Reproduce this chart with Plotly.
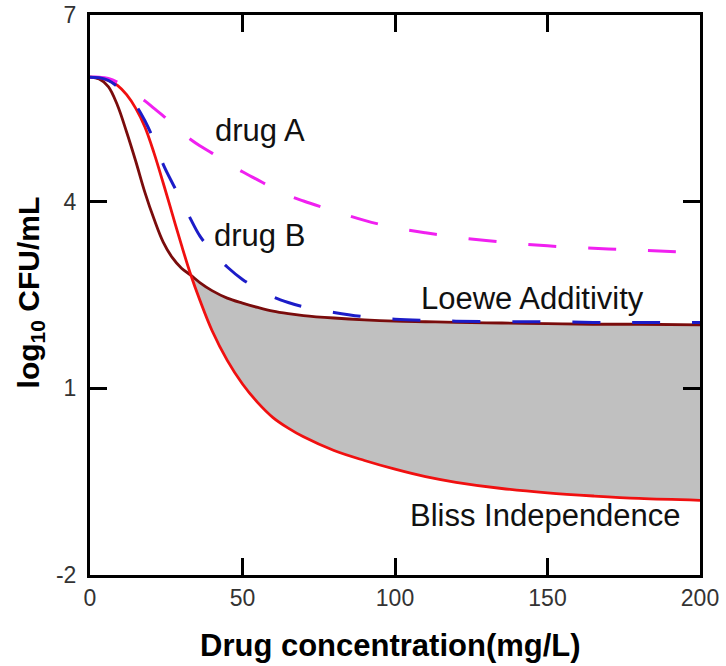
import plotly.graph_objects as go

# ---- data ----
conc = [0, 3, 6, 9, 12, 15, 18, 21, 24, 27, 30, 33, 36, 40, 45, 50, 55, 60, 65, 70,
        80, 90, 100, 110, 120, 135, 150, 165, 180, 200]

drug_a = [6.0, 6.0, 5.98, 5.92, 5.82, 5.72, 5.62, 5.5, 5.38, 5.25, 5.12, 5.0, 4.9, 4.78,
          4.62, 4.48, 4.35, 4.22, 4.1, 4.01, 3.85, 3.7, 3.58, 3.5, 3.43, 3.35, 3.29,
          3.25, 3.22, 3.18]

drug_b = [6.0, 5.99, 5.95, 5.85, 5.72, 5.55, 5.3, 4.98, 4.6, 4.3, 4.02, 3.72, 3.45, 3.2,
          2.95, 2.75, 2.6, 2.47, 2.38, 2.31, 2.22, 2.15, 2.11, 2.09, 2.08, 2.07, 2.07,
          2.06, 2.06, 2.06]

loewe = [6.0, 5.97, 5.85, 5.55, 5.12, 4.65, 4.15, 3.72, 3.35, 3.1, 2.93, 2.82, 2.7, 2.57,
         2.45, 2.37, 2.3, 2.24, 2.2, 2.17, 2.13, 2.1, 2.08, 2.07, 2.06, 2.05, 2.04,
         2.03, 2.03, 2.02]

bliss = [6.0, 5.99, 5.95, 5.87, 5.72, 5.5, 5.2, 4.78, 4.3, 3.8, 3.3, 2.83, 2.42, 1.93,
         1.45, 1.07, 0.77, 0.53, 0.36, 0.22, 0.0, -0.16, -0.3, -0.42, -0.51, -0.61,
         -0.68, -0.73, -0.77, -0.8]

x_ticks = [0, 50, 100, 150, 200]
y_ticks = [-2, 1, 4, 7]
y_ticktext = ["-2", "1", "4", "7"]

labels = [
    ("drug A", 55.7, 5.15),
    ("drug B", 55.7, 3.45),
    ("Loewe Additivity", 145.0, 2.45),
    ("Bliss Independence", 149.2, -1.04),
]

x_title = "<b>Drug concentration(mg/L)</b>"
y_title = "<b>log<sub>10</sub> CFU/mL</b>"

# ---- figure ----
fig = go.Figure()

# shaded region between Loewe and Bliss (from their crossing onward)
i0 = conc.index(33)
fig.add_trace(go.Scatter(x=conc[i0:], y=loewe[i0:], mode="lines",
                         line=dict(width=0, shape="spline"), hoverinfo="skip",
                         showlegend=False))
fig.add_trace(go.Scatter(x=conc[i0:], y=bliss[i0:], mode="lines", fill="tonexty",
                         fillcolor="#C0C0C0", line=dict(width=0, shape="spline"),
                         hoverinfo="skip", showlegend=False))

fig.add_trace(go.Scatter(x=conc, y=loewe, mode="lines", name="Loewe Additivity",
                         line=dict(color="#7A0C0C", width=2.8, shape="spline")))
fig.add_trace(go.Scatter(x=conc, y=bliss, mode="lines", name="Bliss Independence",
                         line=dict(color="#F01010", width=2.8, shape="spline")))
fig.add_trace(go.Scatter(x=conc, y=drug_a, mode="lines", name="drug A",
                         line=dict(color="#F020F0", width=3, dash="28px,32px",
                                   shape="spline")))
fig.add_trace(go.Scatter(x=conc, y=drug_b, mode="lines", name="drug B",
                         line=dict(color="#1C1CC8", width=3, dash="28px,32px",
                                   shape="spline")))

for text, xv, yv in labels:
    fig.add_annotation(x=xv, y=yv, text=text, showarrow=False, xanchor="center",
                       yanchor="middle",
                       font=dict(family="Liberation Sans, Arial", size=31, color="#111111"))

# axis titles placed explicitly
fig.add_annotation(x=0.492, y=-0.125, xref="paper", yref="paper", text=x_title,
                   showarrow=False, xanchor="center", yanchor="middle",
                   font=dict(family="Liberation Sans, Arial", size=31, color="black"))
fig.add_annotation(x=-0.098, y=0.505, xref="paper", yref="paper", text=y_title,
                   showarrow=False, xanchor="center", yanchor="middle", textangle=-90,
                   font=dict(family="Liberation Sans, Arial", size=30, color="black"))

axis_common = dict(showline=True, linecolor="black", linewidth=3, mirror="ticks",
                   ticks="inside", ticklen=17, tickwidth=3, tickcolor="black",
                   showgrid=False, zeroline=False, automargin=False,
                   ticklabeloverflow="allow",
                   tickfont=dict(family="Liberation Sans, Arial", size=23, color="#333333"))

fig.update_xaxes(range=[0, 200], tickvals=x_ticks, ticklabelstandoff=0, **axis_common)
fig.update_yaxes(range=[-2, 7], tickvals=y_ticks, ticktext=y_ticktext,
                 ticklabelstandoff=6, **axis_common)

fig.update_layout(width=726, height=666, plot_bgcolor="white", paper_bgcolor="white",
                  margin=dict(l=90, r=26, t=15, b=91, autoexpand=False), showlegend=False)

# remove the page's default body margin so the figure sits at the window's corner
fig.write_html("out.html", config={"displayModeBar": False},
               post_script="document.body.style.margin='0';")
